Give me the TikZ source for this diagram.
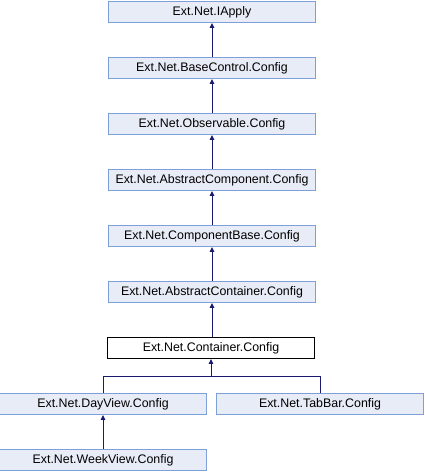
\documentclass[tikz,border=0pt]{standalone}
\usepackage{fontspec}
\setmainfont{Liberation Sans}
\usepackage{xcolor}
\usetikzlibrary{positioning, arrows.meta}
\definecolor{classfill}{HTML}{E8ECF6}
\definecolor{classborder}{HTML}{7F9FD8}
\definecolor{edgeblue}{HTML}{191970}

\tikzset{
  classbox/.style={fill=classfill, draw=classborder, line width=0.9pt,
    minimum width=207pt, minimum height=21pt, inner sep=0pt, font=\fontsize{12.4pt}{14pt}\selectfont},
  focusbox/.style={classbox, fill=white, draw=black},
  inherit/.style={draw=edgeblue, line width=0.9pt, -{Triangle[length=5pt, width=4.5pt]}}
}

\begin{document}
\begin{tikzpicture}[x=1pt, y=-1pt]
    \useasboundingbox (0,0) rectangle (424,472);
    \node[classbox] (iapply) at (212,12) {Ext.Net.IApply};
    \node[classbox] (basecontrol) at (212,68) {Ext.Net.BaseControl.Config};
    \node[classbox] (observable) at (212,124) {Ext.Net.Observable.Config};
    \node[classbox] (abstractcomp) at (212,180) {Ext.Net.AbstractComponent.Config};
    \node[classbox] (compbase) at (212,236) {Ext.Net.ComponentBase.Config};
    \node[classbox] (abstractcont) at (212,292) {Ext.Net.AbstractContainer.Config};
    \node[focusbox] (container) at (211,348) {Ext.Net.Container.Config};
    \node[classbox] (dayview) at (103,404) {Ext.Net.DayView.Config};
    \node[classbox] (tabbar) at (320,404) {Ext.Net.TabBar.Config};
    \node[classbox] (weekview) at (103,460) {Ext.Net.WeekView.Config};
    % chain of base classes
    \draw[inherit] (basecontrol) -- (iapply);
    \draw[inherit] (observable) -- (basecontrol);
    \draw[inherit] (abstractcomp) -- (observable);
    \draw[inherit] (compbase) -- (abstractcomp);
    \draw[inherit] (abstractcont) -- (compbase);
    \draw[inherit] (container.north -| abstractcont) -- (abstractcont);
    % derived classes
    \coordinate (branch) at (211,376);
    \draw[inherit] (dayview.north) |- (branch) -- (container.south);
    \draw[draw=edgeblue, line width=0.9pt] (tabbar.north) |- (branch);
    \draw[inherit] (weekview) -- (dayview);
\end{tikzpicture}
\end{document}
